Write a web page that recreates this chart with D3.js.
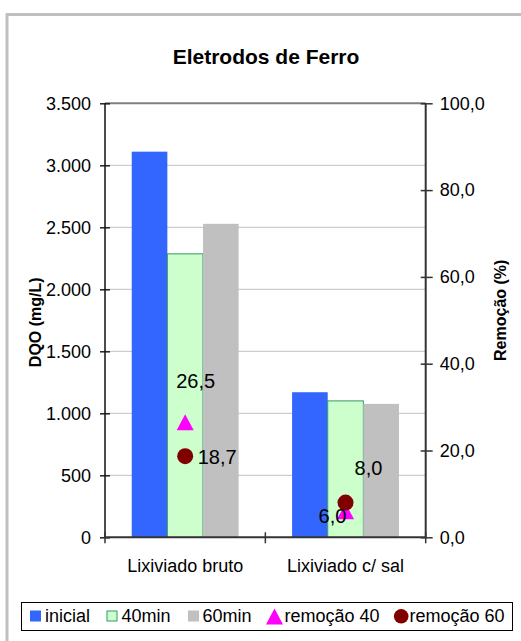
<!DOCTYPE html>
<html>
<head>
<meta charset="utf-8">
<script src="https://cdn.jsdelivr.net/npm/d3@7"></script>
<style>
  html, body { margin: 0; padding: 0; background: #fff; }
  svg { display: block; font-family: "Liberation Sans", Arial, sans-serif; }
</style>
</head>
<body>
<svg id="chart" width="521" height="641"></svg>
<script>
// DQO (mg/L) per sample, and removal (%) after 40 and 60 minutes
const categories = ["Lixiviado bruto", "Lixiviado c/ sal"];
const inicial = [3110, 1170];
const min40 = [2286, 1100];
const min60 = [2528, 1076];
const remocao40 = [26.5, 6.0];
const remocao60 = [18.7, 8.0];
const dqoTicks = [0, 500, 1000, 1500, 2000, 2500, 3000, 3500];
const remTicks = [0, 20, 40, 60, 80, 100];
const seriesNames = ["inicial", "40min", "60min"];
const markerNames = ["remoção 40", "remoção 60"];

const ptBR = d3.formatLocale({ decimal: ",", thousands: ".", grouping: [3], currency: ["R$", ""] });
const fmtDqo = ptBR.format(",.0f");
const fmtPct = ptBR.format(".1f");

const svg = d3.select("#chart");

// chart area frame
svg.append("rect")
  .attr("x", 7).attr("y", 14.5).attr("width", 600).attr("height", 700)
  .attr("fill", "#fff").attr("stroke", "#c0c0c0").attr("stroke-width", 3);

const plot = { left: 105, right: 425.7, top: 103.3, bottom: 537.3 };

const x0 = d3.scaleBand().domain(categories).range([plot.left, plot.right]).padding(0);
const bw = x0.bandwidth();
const x1 = d3.scaleBand().domain(seriesNames).range([bw / 6, bw * 5 / 6]).padding(0);
const y = d3.scaleLinear().domain([0, 3500]).range([plot.bottom, plot.top]);
const y2 = d3.scaleLinear().domain([0, 100]).range([plot.bottom, plot.top]);

// title
svg.append("text")
  .attr("x", 266).attr("y", 64)
  .attr("text-anchor", "middle")
  .attr("font-size", 21).attr("font-weight", "bold")
  .text("Eletrodos de Ferro");

// gridlines
svg.append("g").selectAll("line")
  .data(dqoTicks.filter(d => d > 0 && d < 3500))
  .join("line")
  .attr("x1", plot.left).attr("x2", plot.right)
  .attr("y1", d => y(d)).attr("y2", d => y(d))
  .attr("stroke", "#c0c0c0").attr("stroke-width", 1);

// plot area top border
svg.append("line")
  .attr("x1", plot.left).attr("x2", plot.right)
  .attr("y1", y(3500)).attr("y2", y(3500))
  .attr("stroke", "#808080").attr("stroke-width", 2);

// bars
const barColors = { "inicial": "#3366ff", "40min": "#ccffcc", "60min": "#c0c0c0" };
const barStroke = { "inicial": "none", "40min": "#339966", "60min": "none" };
const barData = [];
categories.forEach((c, i) => {
  barData.push({ cat: c, key: "inicial", v: inicial[i] });
  barData.push({ cat: c, key: "40min", v: min40[i] });
  barData.push({ cat: c, key: "60min", v: min60[i] });
});
svg.append("g").selectAll("rect")
  .data(barData)
  .join("rect")
  .attr("x", d => x0(d.cat) + x1(d.key))
  .attr("width", x1.bandwidth())
  .attr("y", d => y(d.v))
  .attr("height", d => y(0) - y(d.v))
  .attr("fill", d => barColors[d.key])
  .attr("stroke", d => barStroke[d.key])
  .attr("stroke-width", 1);

// left axis
const leftAxis = d3.axisLeft(y).tickValues(dqoTicks).tickFormat(fmtDqo).tickSize(0).tickPadding(14);
const gl = svg.append("g").attr("transform", `translate(${plot.left},0)`).call(leftAxis);
gl.select(".domain").remove();
gl.selectAll(".tick text").attr("font-size", 18).attr("fill", "#000").attr("font-family", "Liberation Sans, Arial, sans-serif");
gl.selectAll(".tick").append("line").attr("x1", -5).attr("x2", 5).attr("stroke", "#222").attr("stroke-width", 1.5);
svg.append("line")
  .attr("x1", plot.left).attr("x2", plot.left)
  .attr("y1", plot.top).attr("y2", plot.bottom)
  .attr("stroke", "#111").attr("stroke-width", 1.5);

// right axis
const rightAxis = d3.axisRight(y2).tickValues(remTicks).tickFormat(fmtPct).tickSize(0).tickPadding(14);
const gr = svg.append("g").attr("transform", `translate(${plot.right},0)`).call(rightAxis);
gr.select(".domain").remove();
gr.selectAll(".tick text").attr("font-size", 18).attr("fill", "#000").attr("font-family", "Liberation Sans, Arial, sans-serif");
gr.selectAll(".tick").append("line").attr("x1", -5).attr("x2", 7).attr("stroke", "#333").attr("stroke-width", 1.5);
svg.append("line")
  .attr("x1", plot.right).attr("x2", plot.right)
  .attr("y1", plot.top).attr("y2", plot.bottom)
  .attr("stroke", "#333").attr("stroke-width", 2);

// bottom axis
svg.append("line")
  .attr("x1", plot.left).attr("x2", plot.right)
  .attr("y1", plot.bottom).attr("y2", plot.bottom)
  .attr("stroke", "#333").attr("stroke-width", 2);
const catEdges = categories.map(c => x0(c)).concat([plot.right]);
svg.append("g").selectAll("line")
  .data(catEdges)
  .join("line")
  .attr("x1", d => d).attr("x2", d => d)
  .attr("y1", plot.bottom - 5).attr("y2", plot.bottom + 6)
  .attr("stroke", "#333").attr("stroke-width", 1.5);
svg.append("g").selectAll("text")
  .data(categories)
  .join("text")
  .attr("x", d => x0(d) + bw / 2)
  .attr("y", 572)
  .attr("text-anchor", "middle")
  .attr("font-size", 18)
  .text(d => d);

// axis titles
svg.append("text")
  .attr("transform", `translate(41,${(plot.top + plot.bottom) / 2 + 2}) rotate(-90)`)
  .attr("text-anchor", "middle")
  .attr("font-size", 16).attr("font-weight", "bold")
  .text("DQO (mg/L)");
svg.append("text")
  .attr("transform", `translate(506,${(plot.top + plot.bottom) / 2 - 10}) rotate(-90)`)
  .attr("text-anchor", "middle")
  .attr("font-size", 16).attr("font-weight", "bold")
  .text("Remoção (%)");

// removal markers
const triPath = "M0,-8 L8.5,8 L-8.5,8 Z";
const cx = c => x0(c) + bw / 2;
svg.append("g").selectAll("path")
  .data(categories.map((c, i) => ({ cat: c, v: remocao40[i] })))
  .join("path")
  .attr("d", triPath)
  .attr("transform", d => `translate(${cx(d.cat)},${y2(d.v)})`)
  .attr("fill", "#ff00ff");
svg.append("g").selectAll("circle")
  .data(categories.map((c, i) => ({ cat: c, v: remocao60[i] })))
  .join("circle")
  .attr("cx", d => cx(d.cat))
  .attr("cy", d => y2(d.v))
  .attr("r", 8)
  .attr("fill", "#800000");

// data labels, offset from each marker
const labelOffsets40 = [[-9, -34], [-27, 12]];
const labelOffsets60 = [[12.5, 7.5], [9, -27.5]];
const labelData = [];
categories.forEach((c, i) => {
  labelData.push({ cat: c, v: remocao40[i], off: labelOffsets40[i] });
  labelData.push({ cat: c, v: remocao60[i], off: labelOffsets60[i] });
});
svg.append("g").selectAll("text")
  .data(labelData)
  .join("text")
  .attr("x", d => cx(d.cat) + d.off[0])
  .attr("y", d => y2(d.v) + d.off[1])
  .attr("font-size", 20)
  .text(d => fmtPct(d.v));

// legend
const lg = svg.append("g");
lg.append("rect")
  .attr("x", 21.5).attr("y", 602.5).attr("width", 491).attr("height", 28)
  .attr("fill", "#fff").attr("stroke", "#000").attr("stroke-width", 1);
const legendItems = [
  { name: seriesNames[0], kind: "bar", x: 30, tx: 45 },
  { name: seriesNames[1], kind: "bar", x: 106.5, tx: 121.5 },
  { name: seriesNames[2], kind: "bar", x: 188, tx: 202.5 },
  { name: markerNames[0], kind: "tri", x: 274.5, tx: 284.5 },
  { name: markerNames[1], kind: "dot", x: 401.2, tx: 409.5 }
];
legendItems.forEach(it => {
  if (it.kind === "bar") {
    const isGreen = it.name === "40min";
    lg.append("rect")
      .attr("x", it.x + (isGreen ? 0.5 : 0)).attr("y", 610.5 + (isGreen ? 0.5 : 0))
      .attr("width", isGreen ? 10 : 11).attr("height", isGreen ? 10 : 11)
      .attr("fill", barColors[it.name])
      .attr("stroke", barStroke[it.name]).attr("stroke-width", 1);
  } else if (it.kind === "tri") {
    lg.append("path").attr("d", triPath)
      .attr("transform", `translate(${it.x},616.5)`)
      .attr("fill", "#ff00ff");
  } else {
    lg.append("circle").attr("cx", it.x).attr("cy", 616.3).attr("r", 7.3).attr("fill", "#800000");
  }
  lg.append("text").attr("x", it.tx).attr("y", 622).attr("font-size", 18).text(it.name);
});
</script>
</body>
</html>
